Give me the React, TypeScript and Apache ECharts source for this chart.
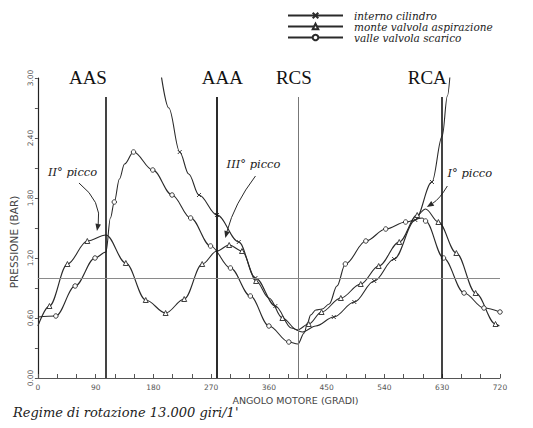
import React, { useEffect, useRef } from "react";
import * as echarts from "echarts";

// x: angolo motore (gradi), y: pressione (bar)
const xTicks = [0, 90, 180, 270, 360, 450, 540, 630, 720];
const yTicks = [0, 0.6, 1.2, 1.8, 2.4, 3.0];

// interno cilindro (x markers)
const cylDeg = [190, 204, 221, 235, 251, 279, 313, 339, 370, 395, 412, 433, 461, 493, 524, 555, 588, 614, 630, 638, 643];
const cylVal = [3.12, 2.7, 2.26, 2.04, 1.83, 1.63, 1.36, 1.0, 0.72, 0.5, 0.46, 0.52, 0.61, 0.76, 0.97, 1.19, 1.58, 1.96, 2.42, 2.82, 3.1];
const cylMark = [0, 0, 1, 0, 1, 1, 1, 1, 1, 0, 0, 0, 1, 1, 1, 1, 1, 1, 0, 0, 0];

// monte valvola aspirazione (triangle markers)
const triDeg = [0, 18, 46, 77, 106, 137, 168, 199, 228, 256, 279, 298, 318, 340, 360, 381, 404, 422, 442, 472, 503, 531, 563, 591, 604, 624, 652, 682, 713, 719];
const triVal = [0.52, 0.72, 1.14, 1.37, 1.43, 1.15, 0.78, 0.65, 0.79, 1.14, 1.27, 1.33, 1.27, 0.97, 0.8, 0.6, 0.48, 0.54, 0.66, 0.8, 0.94, 1.12, 1.36, 1.63, 1.69, 1.56, 1.25, 0.85, 0.54, 0.52];
const triMark = [0, 1, 1, 1, 0, 1, 1, 1, 1, 1, 0, 1, 1, 1, 0, 1, 0, 1, 1, 1, 1, 1, 1, 1, 0, 1, 1, 1, 1, 0];

// valle valvola scarico (circle markers)
const scaDeg = [0, 28, 58, 89, 106, 113, 119, 127, 135, 149, 179, 209, 238, 269, 300, 331, 360, 391, 405, 415, 420, 425, 433, 443, 454, 466, 479, 511, 542, 573, 599, 604, 632, 664, 695, 720];
const scaVal = [0.61, 0.62, 0.92, 1.2, 1.26, 1.6, 1.76, 1.99, 2.14, 2.26, 2.08, 1.83, 1.6, 1.32, 1.1, 0.82, 0.52, 0.36, 0.34, 0.45, 0.55, 0.63, 0.68, 0.69, 0.74, 0.92, 1.14, 1.37, 1.49, 1.56, 1.6, 1.57, 1.2, 0.85, 0.7, 0.66];
const scaMark = [0, 1, 1, 1, 0, 0, 1, 0, 0, 1, 1, 1, 1, 1, 1, 1, 1, 1, 0, 0, 0, 0, 0, 0, 0, 0, 1, 1, 1, 1, 0, 1, 1, 1, 1, 1];

// phase lines
const phaseNames = ["AAS", "AAA", "RCS", "RCA"];
const phaseDeg = [106, 278, 405, 630];
const phaseTop = 2.81;
const atmPressure = 1.0;

// annotations
const peakNames = ["II° picco", "III° picco", "I° picco"];
const peakTextPos = [[54, 2.06], [336, 2.14], [673, 2.05]];
const peakArrowFrom = [[64, 1.95], [339, 2.02], [638, 1.92]];
const peakArrowTo = [[92, 1.47], [292, 1.4], [606, 1.71]];
const peakArrowBend = [0.3, -0.1, 0.12];

const seriesNames = ["interno cilindro", "monte valvola aspirazione", "valle valvola scarico"];

const INK = "#2a2a2a";
const footText = "Regime di rotazione 13.000 giri/1'";

function build(deg: number[], val: number[], mark: number[]) {
  return deg.map((d, i) => (mark[i] ? { value: [d, val[i]] } : { value: [d, val[i]], symbol: "none" }));
}

export default function App() {
  const ref = useRef<HTMLDivElement>(null);
  useEffect(() => {
    if (!ref.current) return;
    const chart = echarts.init(ref.current, null, { renderer: "svg" });
    const phaseOffsets = [-18, 6, -4, -15];
    const phaseColors = ["#151515", "#151515", "#777", "#151515"];
    const phaseWidths = [1.6, 1.8, 1, 1.6];
    const lineBase = {
      type: "line" as const,
      smooth: 0.35,
      smoothMonotone: "x" as const,
      showAllSymbol: true,
      symbolSize: 4,
      lineStyle: { color: INK, width: 1.1 },
      clip: true,
    };
    const footGraphic = {
      id: "foot",
      type: "text",
      left: 13,
      top: 406,
      style: { text: footText, font: "italic 13px 'DejaVu Serif'", fill: "#222" },
    };
    chart.setOption({
      animation: false,
      backgroundColor: "#ffffff",
      grid: { left: 37, right: 33, top: 78, bottom: 50 },
      legend: {
        data: seriesNames,
        orient: "vertical",
        left: 287,
        top: 10,
        padding: 0,
        itemWidth: 55,
        itemHeight: 7,
        itemGap: 0,
        textStyle: {
          fontFamily: "DejaVu Serif",
          fontStyle: "italic",
          fontSize: 10.5,
          color: "#222",
          lineHeight: 10,
          padding: [0, 0, 0, 6],
        },
      },
      xAxis: {
        type: "value",
        min: 0,
        max: 720,
        interval: 90,
        name: "ANGOLO MOTORE (GRADI)",
        nameLocation: "middle",
        nameGap: 16,
        nameTextStyle: { fontFamily: "DejaVu Sans", fontSize: 9.5, color: "#444", padding: [0, 0, 0, 53] },
        axisLine: { show: true, lineStyle: { color: "#555", width: 1 } },
        axisTick: { show: true, inside: true, length: 4, lineStyle: { color: "#555" } },
        minorTick: { show: true, splitNumber: 3, length: 4, lineStyle: { color: "#555" } },
        axisLabel: {
          fontFamily: "DejaVu Sans",
          fontSize: 7.5,
          color: "#555",
          margin: 5,
          formatter: (v: number) => (xTicks.includes(v) ? String(v) : ""),
        },
        splitLine: { show: false },
      },
      yAxis: {
        type: "value",
        min: 0,
        max: 3,
        interval: 0.6,
        name: "PRESSIONE (BAR)",
        nameLocation: "middle",
        nameGap: 10,
        nameTextStyle: { fontFamily: "DejaVu Sans", fontSize: 10.5, color: "#444", padding: [0, 28, 0, 0] },
        axisLine: { show: true, lineStyle: { color: "#222", width: 1.2 } },
        axisTick: { show: true, length: 3, lineStyle: { color: "#555" } },
        minorTick: { show: true, splitNumber: 2, length: 3, lineStyle: { color: "#555" } },
        axisLabel: {
          rotate: 90,
          fontFamily: "DejaVu Sans",
          fontSize: 7.5,
          color: "#555",
          margin: 3,
          formatter: (v: number) => (yTicks.some((t) => Math.abs(t - v) < 1e-6) ? v.toFixed(2) : ""),
        },
        splitLine: { show: false },
      },
      graphic: [footGraphic],
      series: [
        {
          ...lineBase,
          name: seriesNames[0],
          symbol: "path://M0,0L10,10M10,0L0,10",
          symbolSize: 4,
          itemStyle: { color: INK, borderColor: INK, borderWidth: 0.9 },
          data: build(cylDeg, cylVal, cylMark),
          markLine: {
            silent: true,
            symbol: "none",
            animation: false,
            data: phaseDeg.map((d, i) => [
              {
                coord: [d, 0],
                lineStyle: { color: phaseColors[i], width: phaseWidths[i], type: "solid" },
                label: {
                  show: true,
                  position: "end",
                  distance: 10,
                  formatter: phaseNames[i],
                  offset: [phaseOffsets[i], 0],
                  fontFamily: "Liberation Serif",
                  fontSize: 19,
                  color: "#111",
                },
              },
              { coord: [d, phaseTop] },
            ]),
          },
        },
        {
          ...lineBase,
          name: seriesNames[1],
          symbol: "triangle",
          symbolSize: 5,
          itemStyle: { color: "#ffffff", borderColor: INK, borderWidth: 0.9 },
          data: build(triDeg, triVal, triMark),
          markPoint: {
            silent: true,
            symbol: "circle",
            symbolSize: 1,
            itemStyle: { color: "rgba(0,0,0,0)", borderWidth: 0 },
            label: {
              show: true,
              position: "inside",
              formatter: "{b}",
              fontFamily: "DejaVu Serif",
              fontStyle: "italic",
              fontSize: 11.5,
              color: "#222",
            },
            data: peakTextPos.map((p, i) => ({ name: peakNames[i], coord: p })),
          },
        },
        {
          ...lineBase,
          name: seriesNames[2],
          symbol: "circle",
          symbolSize: 4.5,
          itemStyle: { color: "#ffffff", borderColor: INK, borderWidth: 0.9 },
          data: build(scaDeg, scaVal, scaMark),
          markLine: {
            silent: true,
            symbol: "none",
            animation: false,
            label: { show: false },
            lineStyle: { color: "#8a8a8a", width: 1, type: "solid" },
            data: [{ yAxis: atmPressure }],
          },
        },
      ],
    });

    // curved annotation arrows, positioned from data coordinates
    const arrows: any[] = [];
    peakArrowFrom.forEach((from, i) => {
      const s = chart.convertToPixel({ gridIndex: 0 }, from) as number[];
      const e = chart.convertToPixel({ gridIndex: 0 }, peakArrowTo[i]) as number[];
      const k = peakArrowBend[i];
      const c = [(s[0] + e[0]) / 2 - (s[1] - e[1]) * k, (s[1] + e[1]) / 2 - (e[0] - s[0]) * k];
      const dx = e[0] - c[0];
      const dy = e[1] - c[1];
      const len = Math.hypot(dx, dy) || 1;
      const ux = dx / len;
      const uy = dy / len;
      const b = [e[0] - ux * 7, e[1] - uy * 7];
      arrows.push({
        id: "arc" + i,
        type: "bezierCurve",
        silent: true,
        shape: { x1: s[0], y1: s[1], cpx1: c[0], cpy1: c[1], x2: b[0], y2: b[1] },
        style: { stroke: INK, lineWidth: 1, fill: "none" },
      });
      arrows.push({
        id: "head" + i,
        type: "polygon",
        silent: true,
        shape: {
          points: [
            [e[0], e[1]],
            [b[0] - uy * 2.8, b[1] + ux * 2.8],
            [b[0] + uy * 2.8, b[1] - ux * 2.8],
          ],
        },
        style: { fill: INK },
      });
    });
    chart.setOption({ graphic: [footGraphic, ...arrows] });

    return () => chart.dispose();
  }, []);
  return <div ref={ref} style={{ position: "fixed", left: 0, top: 0, width: 533, height: 428 }} />;
}
